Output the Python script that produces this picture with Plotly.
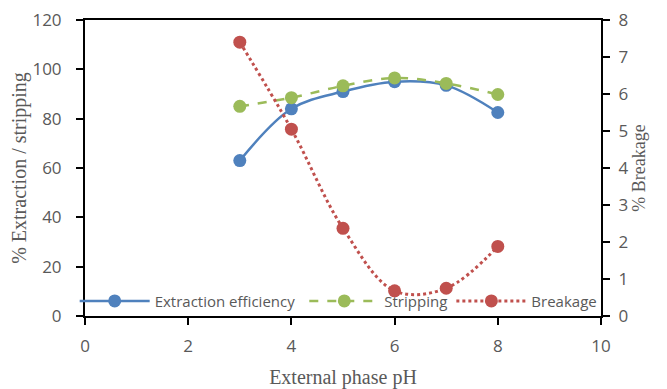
import plotly.graph_objects as go

ph = [3, 4, 5, 6, 7, 8]
extraction = [63, 84, 91, 95, 93.5, 82.5]
stripping = [85, 88.5, 93.3, 96.5, 94.3, 89.8]
breakage = [7.4, 5.05, 2.37, 0.68, 0.75, 1.88]

x_ticks = [0, 2, 4, 6, 8, 10]
y_ticks = [0, 20, 40, 60, 80, 100, 120]
y2_ticks = [0, 1, 2, 3, 4, 5, 6, 7, 8]

BLUE = "#4F81BD"
GREEN = "#9BBB59"
RED = "#C0504D"
GRAY = "#595959"

fig = go.Figure()
fig.add_trace(go.Scatter(
    x=ph, y=extraction, name="Extraction efficiency", mode="lines+markers",
    legend="legend",
    line=dict(color=BLUE, width=2.5, shape="spline"),
    marker=dict(color=BLUE, size=13)))
fig.add_trace(go.Scatter(
    x=ph, y=stripping, name="Stripping", mode="lines+markers",
    legend="legend2",
    line=dict(color=GREEN, width=2.5, dash="dash", shape="spline"),
    marker=dict(color=GREEN, size=13)))
fig.add_trace(go.Scatter(
    x=ph, y=breakage, name="Breakage", mode="lines+markers", yaxis="y2",
    legend="legend3",
    line=dict(color=RED, width=3, dash="dot", shape="spline"),
    marker=dict(color=RED, size=13)))

tickfont = dict(family="Open Sans, Liberation Sans, sans-serif", size=17, color=GRAY)
titlefont = dict(family="Liberation Serif, serif", size=20, color=GRAY)
legfont = dict(family="Open Sans, Liberation Sans, sans-serif", size=15, color=GRAY)

def leg(x):
    return dict(orientation="h", x=x, y=0.05, xanchor="left", yanchor="middle",
                bgcolor="rgba(0,0,0,0)", font=legfont, itemwidth=70,
                borderwidth=0)

fig.update_layout(
    width=667, height=389,
    margin=dict(l=85, r=66, t=20, b=73, autoexpand=False),
    paper_bgcolor="white", plot_bgcolor="white",
    showlegend=True,
    legend=leg(-0.02),
    legend2=leg(0.425),
    legend3=leg(0.71),
    xaxis=dict(range=[0, 10], tickvals=x_ticks, showgrid=False, zeroline=False,
               showline=True, linecolor="black", linewidth=2, mirror=True,
               ticks="outside", ticklen=7, tickwidth=2, tickcolor="black",
               tickfont=tickfont, ticklabelstandoff=7, automargin=False,
               title=dict(text="External phase pH", font=titlefont, standoff=14)),
    yaxis=dict(range=[0, 120], tickvals=y_ticks, showgrid=False, zeroline=False,
               showline=True, linecolor="black", linewidth=2,
               ticks="outside", ticklen=7, tickwidth=2, tickcolor="black",
               tickfont=tickfont, ticklabelstandoff=11, automargin=False,
               title=dict(text="% Extraction / stripping", font=titlefont, standoff=0)),
    yaxis2=dict(range=[0, 8], tickvals=y2_ticks, overlaying="y", side="right",
                showgrid=False, zeroline=False,
                showline=True, linecolor="black", linewidth=2,
                ticks="outside", ticklen=7, tickwidth=2, tickcolor="black",
                tickfont=tickfont, ticklabelstandoff=5, automargin=False,
                title=dict(text="% Breakage", font=dict(family="Liberation Serif, serif", size=18, color=GRAY), standoff=5)),
)

fig.write_html("out.html")
